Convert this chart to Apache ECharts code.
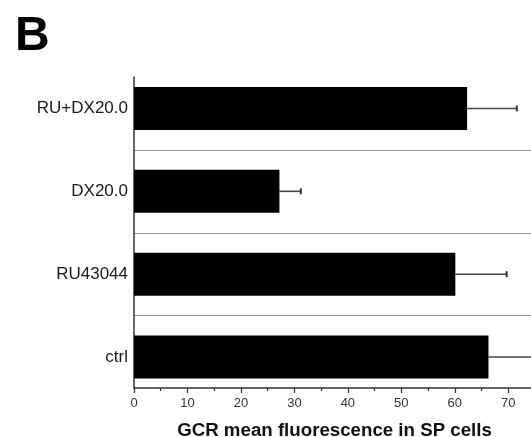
<!DOCTYPE html>
<html>
<head>
<meta charset="utf-8">
<script src="https://cdn.jsdelivr.net/npm/echarts@6/dist/echarts.min.js"></script>
<style>
  html, body { margin: 0; padding: 0; background: #fff; }
  #chart { width: 531px; height: 437px; }
</style>
</head>
<body>
<div id="chart"></div>
<script>
const categories = ['RU+DX20.0', 'DX20.0', 'RU43044', 'ctrl']
const means = [62.3, 27.2, 60.1, 66.3]
const errors = [9.3, 4.0, 9.6, 12.0]
const xTicks = [0, 10, 20, 30, 40, 50, 60, 70]

const chart = echarts.init(document.getElementById('chart'))

const xMin = 0
const xMax = 75

chart.setOption({
  backgroundColor: '#fff',
  animation: false,
  title: {
    text: 'B',
    left: 10,
    top: 8,
    textStyle: { fontFamily: 'Liberation Sans', fontWeight: 'bold', fontSize: 48, color: '#000' }
  },
  grid: [
    // bars, categories, separators
    { left: 134, right: -4, top: 67, bottom: 38.5, outerBoundsMode: 'none', containLabel: false },
    // visible axis lines
    { left: 134, right: -4, top: 77, bottom: 49, outerBoundsMode: 'none', containLabel: false }
  ],
  xAxis: [
    { gridIndex: 0, type: 'value', min: xMin, max: xMax, show: false },
    {
      gridIndex: 1,
      type: 'value',
      min: xMin,
      max: xMax,
      interval: 10,
      axisLine: { show: true, onZero: false, lineStyle: { color: '#333', width: 1.5 } },
      axisTick: { show: true, length: 5, lineStyle: { color: '#333', width: 1.2 } },
      minorTick: { show: true, splitNumber: 2, length: 3, lineStyle: { color: '#333', width: 1.2 } },
      splitLine: { show: false },
      axisLabel: {
        margin: 9,
        fontFamily: 'Liberation Sans',
        fontSize: 13,
        color: '#333',
        showMaxLabel: false,
        formatter: v => (xTicks.includes(v) ? String(v) : '')
      },
      name: 'GCR mean fluorescence in SP cells',
      nameLocation: 'middle',
      nameGap: 33,
      nameTextStyle: { fontFamily: 'Liberation Sans', fontWeight: 'bold', fontSize: 18.7, color: '#111' }
    }
  ],
  yAxis: [
    {
      gridIndex: 0,
      type: 'category',
      inverse: true,
      data: categories,
      axisLine: { show: false },
      axisTick: { show: false },
      axisLabel: {
        margin: 6,
        fontFamily: 'Liberation Sans',
        fontSize: 17,
        color: '#1a1a1a'
      },
      splitLine: {
        show: true,
        showMinLine: false,
        showMaxLine: false,
        lineStyle: { color: '#999', width: 1 }
      }
    },
    {
      gridIndex: 1,
      type: 'value',
      min: 0,
      max: 1,
      axisLine: { show: true, onZero: false, lineStyle: { color: '#333', width: 1.5 } },
      axisTick: { show: false },
      axisLabel: { show: false },
      splitLine: { show: false }
    }
  ],
  series: [
    {
      type: 'bar',
      xAxisIndex: 0,
      yAxisIndex: 0,
      data: means,
      barWidth: 43,
      itemStyle: { color: '#000' }
    },
    {
      type: 'custom',
      xAxisIndex: 0,
      yAxisIndex: 0,
      data: means.map((m, i) => [m, i, m + errors[i]]),
      encode: { x: [0, 2], y: 1 },
      renderItem: (params, api) => {
        const start = api.coord([api.value(0), api.value(1)])
        const end = api.coord([api.value(2), api.value(1)])
        const style = { stroke: '#444', lineWidth: 1.6 }
        return {
          type: 'group',
          children: [
            { type: 'line', shape: { x1: start[0], y1: start[1], x2: end[0], y2: end[1] }, style },
            { type: 'line', shape: { x1: end[0], y1: end[1] - 3, x2: end[0], y2: end[1] + 3 }, style: { stroke: '#333', lineWidth: 2 } }
          ]
        }
      },
      z: 1
    }
  ]
})
</script>
</body>
</html>
